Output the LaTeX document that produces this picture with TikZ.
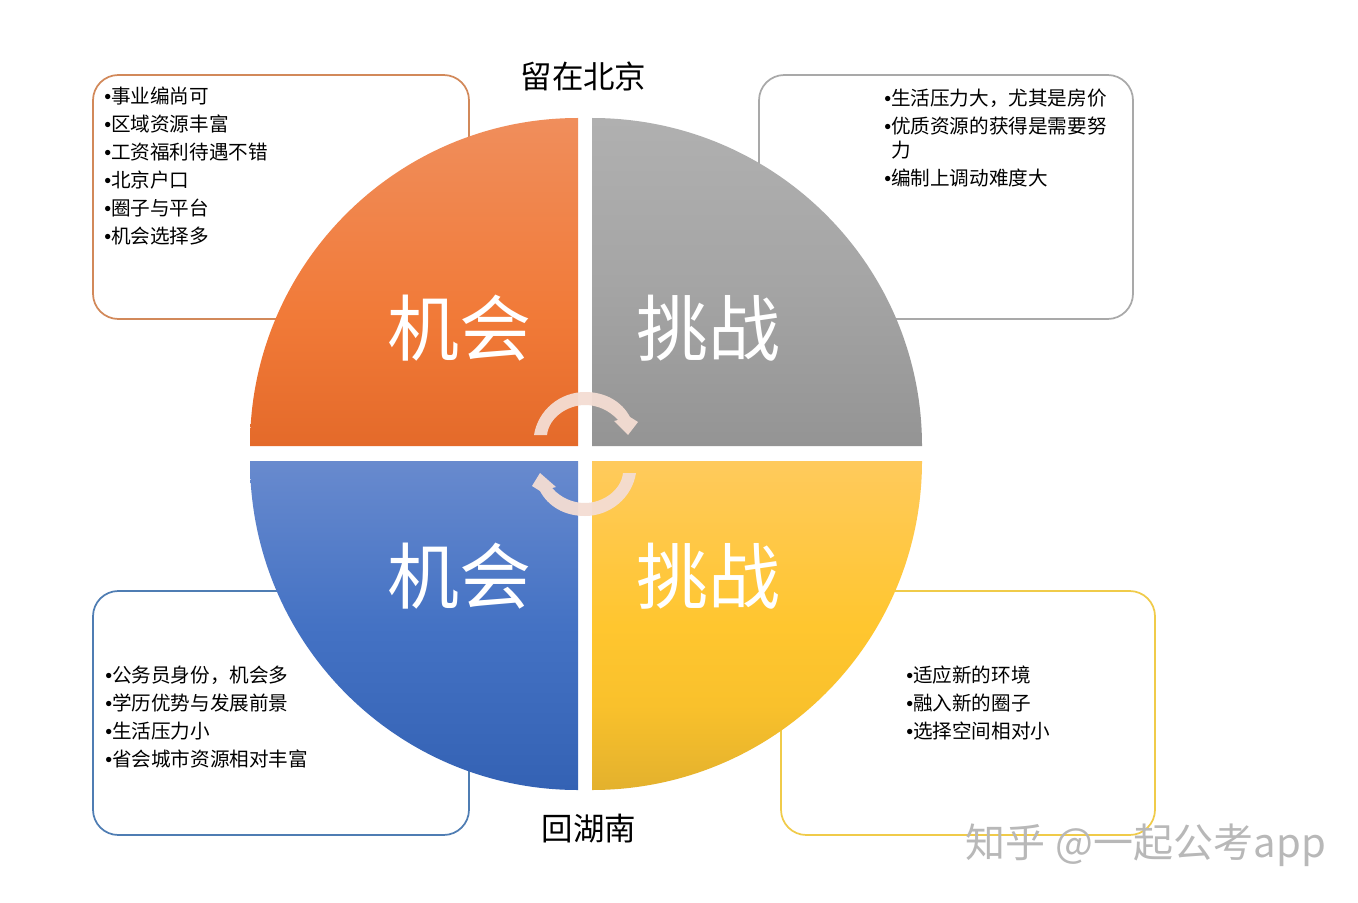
\documentclass[tikz,border=0pt]{standalone}
\usepackage{fontspec}
\newfontfamily\cjk{Noto Sans CJK SC}
\newfontfamily\bulfont{Liberation Sans}
\definecolor{boxorange}{HTML}{D2895A}
\definecolor{boxgray}{HTML}{A9A9A9}
\definecolor{boxblue}{HTML}{4F7DB3}
\definecolor{boxyellow}{HTML}{F0CB4A}
\definecolor{ringpink}{HTML}{F4DDD3}
\definecolor{wmgray}{HTML}{B8B8B8}
\newcommand{\bul}{{\bulfont •}}
\newcommand{\bulgap}{\hspace*{5.1pt}}
\definecolor{o1}{HTML}{F08E5C}\definecolor{o2}{HTML}{F17A38}\definecolor{o3}{HTML}{E46A2A}
\definecolor{g1}{HTML}{B0B0B0}\definecolor{g2}{HTML}{A5A5A5}\definecolor{g3}{HTML}{949494}
\definecolor{b1}{HTML}{688ACE}\definecolor{b2}{HTML}{4472C4}\definecolor{b3}{HTML}{3462B4}
\definecolor{y1}{HTML}{FFCA5C}\definecolor{y2}{HTML}{FFC62F}\definecolor{y3}{HTML}{F9C12C}\definecolor{y4}{HTML}{E3B12D}
\pgfdeclareverticalshading{orangeshade}{100bp}{color(0bp)=(o3); color(25bp)=(o3); color(45bp)=(o2); color(75bp)=(o1); color(100bp)=(o1)}
\pgfdeclareverticalshading{grayshade}{100bp}{color(0bp)=(g3); color(25bp)=(g3); color(50bp)=(g2); color(75bp)=(g1); color(100bp)=(g1)}
\pgfdeclareverticalshading{blueshade}{100bp}{color(0bp)=(b3); color(25bp)=(b3); color(50bp)=(b2); color(75bp)=(b1); color(100bp)=(b1)}
\pgfdeclareverticalshading{yellowshade}{100bp}{color(0bp)=(y4); color(25bp)=(y4); color(38bp)=(y3); color(50bp)=(y2); color(75bp)=(y1); color(100bp)=(y1)}
\tikzset{
  infobox/.style={draw,line width=1.3pt,rounded corners=19pt,fill=white},
  listtext/.style={anchor=north west,align=left,inner sep=0pt,text=black,font=\cjk\fontsize{14.7}{21}\selectfont},
  bigword/.style={text=white,font=\cjk\fontsize{54}{54}\selectfont,inner sep=0pt},
  titleword/.style={text=black,font=\cjk\fontsize{23.6}{24}\selectfont,inner sep=0pt},
  ringarrow/.style={fill=ringpink,draw=none,fill opacity=0.95},
  wmark/.style={anchor=west,text=wmgray,inner sep=0pt,font=\cjk\fontsize{30}{30}\selectfont}
}
\begin{document}
\begin{tikzpicture}[x=0.75pt,y=-0.75pt]
\useasboundingbox (0,0) rectangle (1358,902);
\fill[white] (0,0) rectangle (1358,902);
% boxes
\draw[infobox,draw=boxorange] (93,75) rectangle (469,319);
\draw[infobox,draw=boxgray] (759,75) rectangle (1133,319);
\draw[infobox,draw=boxblue] (93,591) rectangle (469,835);
\draw[infobox,draw=boxyellow] (781,591) rectangle (1155,835);
% quadrants
\shade[shading=orangeshade]
  (578,446) -- (250,446) arc[start angle=180,end angle=90,radius=246pt] -- cycle;
\shade[shading=grayshade]
  (592,446) -- (592,118) arc[start angle=90,end angle=0,x radius=247.5pt,y radius=246pt] -- cycle;
\shade[shading=blueshade]
  (578,461) -- (250,461) arc[start angle=180,end angle=270,x radius=246pt,y radius=246.75pt] -- cycle;
\shade[shading=yellowshade]
  (592,461) -- (922,461) arc[start angle=0,end angle=-90,x radius=247.5pt,y radius=246.75pt] -- cycle;
% ring arrows
\fill[ringarrow] (534,435)
  .. controls (538,410) and (560,392) .. (585,392)
  .. controls (606,392) and (622,402) .. (630,417)
  -- (638,422) -- (628,435) -- (614,421) -- (618,420)
  .. controls (609,410) and (597,405) .. (585,405)
  .. controls (568,405) and (549,417) .. (547,435) -- cycle;
\fill[ringarrow] (636,473)
  .. controls (632,498) and (610,516) .. (585,516)
  .. controls (564,516) and (548,506) .. (540,491)
  -- (532,486) -- (540,473) -- (556,487) -- (552,488)
  .. controls (561,498) and (573,503) .. (585,503)
  .. controls (602,503) and (621,491) .. (623,473) -- cycle;
% big words
\node[bigword] (w1) at (459,328) {机会};
\node[bigword] (w2) at (708,328) {挑战};
\node[bigword] (w3) at (459,576) {机会};
\node[bigword] (w4) at (708,576) {挑战};
% titles
\node[titleword] (t1) at (583.5,76) {留在北京};
\node[titleword] (t2) at (589,829) {回湖南};
% lists
\node[listtext] (l1) at (104,87) {\bul 事业编尚可\\\bul 区域资源丰富\\\bul 工资福利待遇不错\\\bul 北京户口\\\bul 圈子与平台\\\bul 机会选择多};
\node[listtext] (l2) at (884,89) {\bul 生活压力大，尤其是房价\\\bul 优质资源的获得是需要努\\[-3pt]\bulgap 力\\\bul 编制上调动难度大};
\node[listtext] (l3) at (105,666) {\bul 公务员身份，机会多\\\bul 学历优势与发展前景\\\bul 生活压力小\\\bul 省会城市资源相对丰富};
\node[listtext] (l4) at (906,666) {\bul 适应新的环境\\\bul 融入新的圈子\\\bul 选择空间相对小};
% watermark
\node[wmark] (wm) at (965,845) {知乎\hspace{8pt}@一起公考app};
\end{tikzpicture}
\end{document}
